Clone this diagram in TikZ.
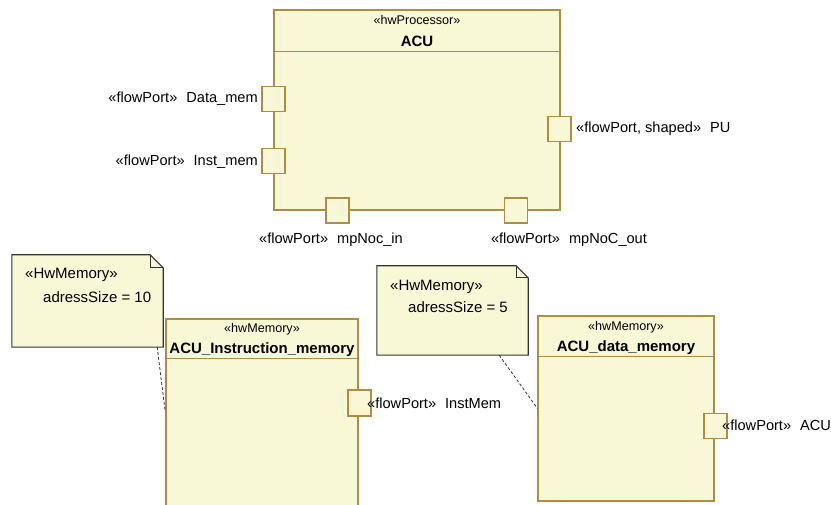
\documentclass[tikz,border=0pt]{standalone}
\usepackage{fontspec}
\setmainfont{Liberation Sans}
\definecolor{umlfond}{RGB}{248,248,214}
\definecolor{umlbord}{RGB}{176,140,64}
\definecolor{notebord}{RGB}{50,50,50}
\begin{document}
\begin{tikzpicture}[x=1pt, y=-1pt,
	bloc/.style={draw=umlbord, fill=umlfond, line width=1.1pt, rectangle, inner sep=0pt},
	port/.style={bloc, minimum width=23pt, minimum height=25pt},
	stereo/.style={font=\fontsize{12.6}{14}\selectfont, inner sep=0pt},
	nom/.style={font=\fontsize{15}{17}\selectfont\bfseries, inner sep=0pt},
	etiq/.style={font=\fontsize{14.6}{16}\selectfont, inner sep=0pt},
	notetxt/.style={font=\fontsize{15}{17}\selectfont, inner sep=0pt, anchor=west},
	notebloc/.style={draw=notebord, fill=umlfond, line width=1.1pt},
	lien/.style={draw=notebord, line width=0.8pt, dash pattern=on 3pt off 2pt}]
	\useasboundingbox (0,0) rectangle (831,505);
	\clip (0,0) rectangle (831,505);
	%Processeur ACU
	\node[bloc, minimum width=286pt, minimum height=200pt] (ACU) at (417,110) {};
	\draw[umlbord, line width=1.1pt] ([yshift=-42pt]ACU.north west) -- ([yshift=-42pt]ACU.north east);
	\node[stereo] (ACUst) at (417,20) {«hwProcessor»};
	\node[nom] (ACUnom) at (417,41) {ACU};
	
	\node[port] (Pdata) at (273.5,99) {};
	\node[port] (Pinst) at (273.5,161) {};
	\node[port] (Ppu) at (559.5,129) {};
	\node[port] (Pin) at (337.5,210.5) {};
	\node[port] (Pout) at (516,210.5) {};
	
	\node[etiq, anchor=east] (Ldata) at (258,99) {«flowPort»\hspace{9pt}Data\_mem};
	\node[etiq, anchor=east] (Linst) at (258,162) {«flowPort»\hspace{9pt}Inst\_mem};
	\node[etiq, anchor=west] (Lpu) at (576,129) {«flowPort, shaped»\hspace{9pt}PU};
	\node[etiq] (Lin) at (331,240) {«flowPort»\hspace{9pt}mpNoc\_in};
	\node[etiq] (Lout) at (569,240) {«flowPort»\hspace{9pt}mpNoC\_out};
	
	%Memoires
	\node[bloc, minimum width=192pt, minimum height=196pt] (IM) at (262,417) {};
	\draw[umlbord, line width=1.1pt] ([yshift=-40pt]IM.north west) -- ([yshift=-40pt]IM.north east);
	\node[stereo] (IMst) at (262,329) {«hwMemory»};
	\node[nom] (IMnom) at (262,350) {ACU\_Instruction\_memory};
	\node[port, minimum height=26pt] (Pim) at (359.5,403) {};
	\node[etiq, anchor=west] (Lim) at (367,403) {«flowPort»\hspace{9pt}InstMem};
	
	\node[bloc, minimum width=176pt, minimum height=185pt] (DM) at (626,408.5) {};
	\draw[umlbord, line width=1.1pt] ([yshift=-41pt]DM.north west) -- ([yshift=-41pt]DM.north east);
	\node[stereo] (DMst) at (626,327) {«hwMemory»};
	\node[nom] (DMnom) at (626,348) {ACU\_data\_memory};
	\node[port] (Pdm) at (715.5,426) {};
	\node[etiq, anchor=west] (Ldm) at (722,425) {«flowPort»\hspace{9pt}ACU};
	
	%Notes
	\node[minimum width=151pt, minimum height=92pt, inner sep=0pt] (N1) at (87.5,301) {};
	\filldraw[notebloc] (N1.south west) -- (N1.north west) -- ([xshift=-13pt]N1.north east)
		-- ([yshift=-13pt]N1.north east) -- (N1.south east) -- cycle;
	\draw[notebord, line width=0.8pt] ([xshift=-13pt]N1.north east) |- ([yshift=-13pt]N1.north east);
	\node[notetxt] (N1a) at (25,275) {«HwMemory»};
	\node[notetxt] (N1b) at (43,297) {adressSize = 10};
	
	\node[minimum width=151pt, minimum height=89pt, inner sep=0pt] (N2) at (452.5,310.5) {};
	\filldraw[notebloc] (N2.south west) -- (N2.north west) -- ([xshift=-12pt]N2.north east)
		-- ([yshift=-12pt]N2.north east) -- (N2.south east) -- cycle;
	\draw[notebord, line width=0.8pt] ([xshift=-12pt]N2.north east) |- ([yshift=-12pt]N2.north east);
	\node[notetxt] (N2a) at (390,287) {«HwMemory»};
	\node[notetxt] (N2b) at (408,307) {adressSize = 5};
	
	%Liens des notes
	\coordinate (c1) at (165,410);
	\draw[lien] ([xshift=-6pt]N1.south east) -- (c1);
	\draw[lien] ([xshift=-29pt]N2.south east) -- (DM.west);
\end{tikzpicture}
\end{document}
